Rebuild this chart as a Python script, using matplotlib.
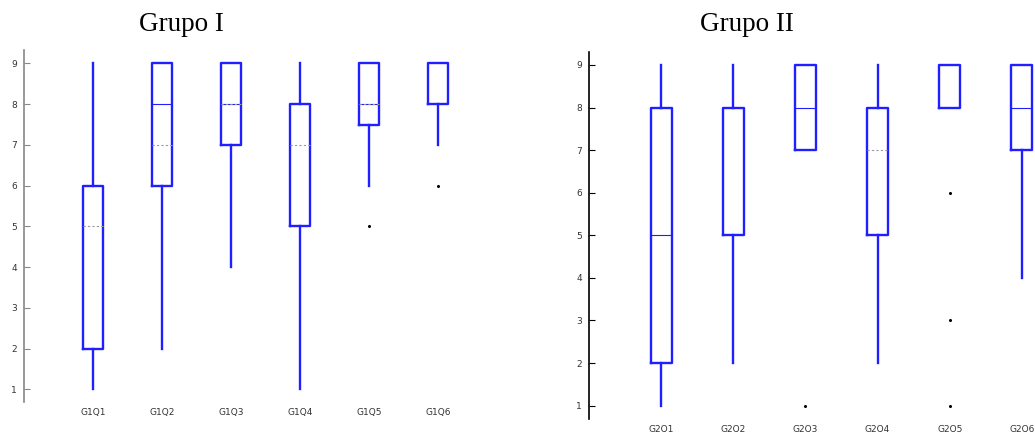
import matplotlib
matplotlib.use("Agg")
import matplotlib.pyplot as plt

# ---- data -------------------------------------------------------------
g1_labels = ["G1Q1", "G1Q2", "G1Q3", "G1Q4", "G1Q5", "G1Q6"]
g1_low = [1, 2, 4, 1, 6, 7]
g1_q1 = [2, 6, 7, 5, 7.5, 8]
g1_q3 = [6, 9, 9, 8, 9, 9]
g1_high = [9, 9, 9, 9, 9, 9]
g1_median = [None, 8, 8, None, 8, None]
g1_mean = [5, 7, 8, 7, 8, None]
g1_outliers = [[], [], [], [], [5], [6]]

g2_labels = ["G2Q1", "G2Q2", "G2Q3", "G2Q4", "G2Q5", "G2Q6"]
g2_low = [1, 2, 7, 2, 8, 4]
g2_q1 = [2, 5, 7, 5, 8, 7]
g2_q3 = [8, 8, 9, 8, 9, 9]
g2_high = [9, 9, 9, 9, 9, 9]
g2_median = [5, None, 8, None, None, 8]
g2_mean = [None, None, None, 7, None, None]
g2_outliers = [[], [], [1], [], [6, 3, 1], []]

y_ticks = [1, 2, 3, 4, 5, 6, 7, 8, 9]

BLUE = "#1f1fff"
W, H = 1035, 432

fig = plt.figure(figsize=(W / 100, H / 100), dpi=100)


def panel(rect, labels, low, q1, q3, high, med, mean, outl, ylim, spine_color):
    ax = fig.add_axes(rect)
    stats = []
    for i in range(len(labels)):
        stats.append({
            "label": labels[i], "whislo": low[i], "q1": q1[i],
            "med": med[i] if med[i] is not None else q1[i],
            "q3": q3[i], "whishi": high[i], "fliers": outl[i],
        })
    pos = list(range(1, len(labels) + 1))
    width = 0.29
    res = ax.bxp(stats, positions=pos, widths=width, showcaps=False,
                 boxprops=dict(color=BLUE, linewidth=1.7),
                 whiskerprops=dict(color=BLUE, linewidth=1.7),
                 medianprops=dict(color=BLUE, linewidth=0.8),
                 flierprops=dict(marker="o", markersize=1.2,
                                 markerfacecolor="black",
                                 markeredgecolor="black"))
    for line, m in zip(res["medians"], med):
        if m is None:
            line.set_visible(False)
    for p, m in zip(pos, mean):
        if m is not None:
            ax.hlines(m, p - width / 2, p + width / 2, colors="#9a9a9a",
                      linewidth=0.8, linestyles=(0, (2, 2)), zorder=3)
    ax.set_xlim(0, 7)
    ax.set_ylim(*ylim)
    ax.set_yticks(y_ticks)
    ax.set_xticks(pos)
    ax.set_xticklabels(labels)
    for s in ("top", "right", "bottom"):
        ax.spines[s].set_visible(False)
    ax.spines["left"].set_color(spine_color)
    ax.spines["left"].set_linewidth(1.2)
    ax.tick_params(axis="y", direction="in", length=4, width=0.8,
                   color=spine_color, labelsize=6.5, pad=5,
                   labelcolor="#333333")
    ax.tick_params(axis="x", length=0, labelsize=6.5, pad=4,
                   labelcolor="#333333")
    return ax


panel([24 / W, 30 / H, 483 / W, 352 / H], g1_labels, g1_low, g1_q1, g1_q3,
      g1_high, g1_median, g1_mean, g1_outliers, (0.69, 9.33), "#888888")
panel([589 / W, 12.7 / H, 505 / W, 367.6 / H], g2_labels, g2_low, g2_q1,
      g2_q3, g2_high, g2_median, g2_mean, g2_outliers, (0.68, 9.31), "black")

fig.text(181.5 / W, 1 - 31 / H, "Grupo I", ha="center", va="baseline",
         family="Liberation Serif", fontsize=19.5)
fig.text(747 / W, 1 - 31 / H, "Grupo II", ha="center", va="baseline",
         family="Liberation Serif", fontsize=19.5)

fig.savefig("out.png", dpi=100)
